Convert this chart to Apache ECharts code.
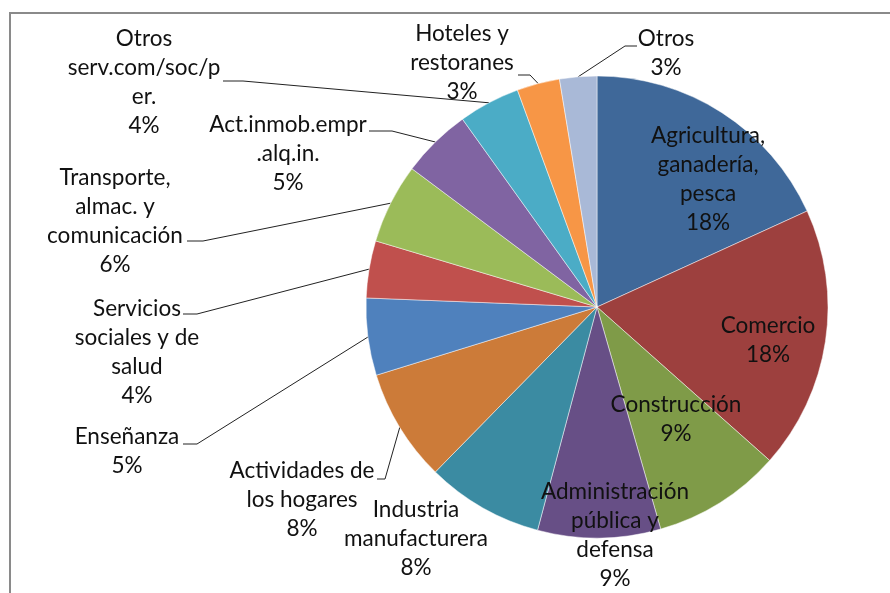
<!DOCTYPE html>
<html><head><meta charset="utf-8">
<script src="https://cdn.jsdelivr.net/npm/echarts@6/dist/echarts.min.js"></script>
<style>html,body{margin:0;padding:0;background:#fff}#c{width:890px;height:593px}</style>
</head><body><div id="c"></div>
<script>
// ---- data ----
const categories = [
  'Agricultura,\nganadería,\npesca',
  'Comercio',
  'Construcción',
  'Administración\npública y\ndefensa',
  'Industria\nmanufacturera',
  'Actividades de\nlos hogares',
  'Enseñanza',
  'Servicios\nsociales y de\nsalud',
  'Transporte,\nalmac. y\ncomunicación',
  'Act.inmob.empr\n.alq.in.',
  'Otros\nserv.com/soc/p\ner.',
  'Hoteles y\nrestoranes',
  'Otros'
];
const shares = [18.2, 18.4, 9.0, 8.6, 8.2, 7.9, 5.4, 4.0, 5.6, 4.9, 4.3, 3.0, 2.6];

// ---- styles / layout ----
const colors = ['#3F6899', '#9D403E', '#7F9B48', '#674F86', '#3B8BA2', '#CC7B39',
                '#4F81BD', '#C0504D', '#9BBB59', '#8064A2', '#4BACC6', '#F79646', '#A9B9D7'];
const insideLabels = [true, true, true, true, false, false, false, false, false, false, false, false, false];
const showLine = [false, false, false, false, false, true, true, true, true, true, true, true, true];
const labelCenters = [[708,179],[768,340],[676,419],[615,535],[416,539],[302,500],[127,451],
                      [137,352],[115,221],[288,154],[144,82],[462,63],[666,53]];
const lineTails = [null, null, null, null, null,
  [[385,479],[377,479]], [[197,444],[183,444]], [[197,314],[183,314]], [[203,241],[187,241]],
  [[392,131],[369,131]], [[243,81],[223,81]], [[530,75],[518,75]], [[625,46],[637,46]]];

const FONT = 'Lato';
// size the font so text widths match the reference (Calibri-like widths)
const cv = document.createElement('canvas').getContext('2d');
cv.font = '100px ' + FONT;
const probes = ['serv.com/soc/p', 'Comercio', 'manufacturera', 'Administración'];
const targets = [155, 92, 145, 148];
let m = 0, t = 0;
probes.forEach((p, i) => { m += cv.measureText(p).width; t += targets[i]; });
let fontSize = Math.max(18, Math.min(26, 100 * t / m));

const chart = echarts.init(document.getElementById('c'), null, {renderer: 'canvas'});
chart.setOption({
  animation: false,
  backgroundColor: '#ffffff',
  graphic: [{
    type: 'rect', z: -1,
    shape: {x: 10, y: 13, width: 1000, height: 1000},
    style: {fill: 'none', stroke: '#8a8a8a', lineWidth: 2}
  }],
  series: [{
    type: 'pie',
    center: [597, 307],
    radius: [0, 231],
    startAngle: 90,
    clockwise: true,
    avoidLabelOverlap: false,
    itemStyle: {borderColor: 'rgba(255,255,255,0.6)', borderWidth: 0.8},
    label: {
      show: true,
      position: 'outside',
      fontFamily: FONT,
      fontSize: fontSize,
      lineHeight: 29,
      color: '#111',
      align: 'center',
      formatter: p => p.name + '\n' + Math.round(p.percent) + '%'
    },
    labelLine: {show: true, length: 10, length2: 10, lineStyle: {color: '#222', width: 1}},
    emphasis: {disabled: true},
    data: categories.map((c, i) => ({
      name: c,
      value: shares[i],
      itemStyle: {color: colors[i]},
      label: {position: insideLabels[i] ? 'inside' : 'outside'},
      labelLine: {show: showLine[i]}
    })),
    labelLayout: function (params) {
      const i = params.dataIndex;
      const c = labelCenters[i];
      const out = {x: c[0], y: c[1], align: 'center', verticalAlign: 'middle'};
      if (lineTails[i] && params.labelLinePoints) {
        const p0 = params.labelLinePoints[0];
        out.labelLinePoints = [[p0[0], p0[1]], lineTails[i][0], lineTails[i][1]];
      }
      return out;
    }
  }]
});
</script>
</body></html>
